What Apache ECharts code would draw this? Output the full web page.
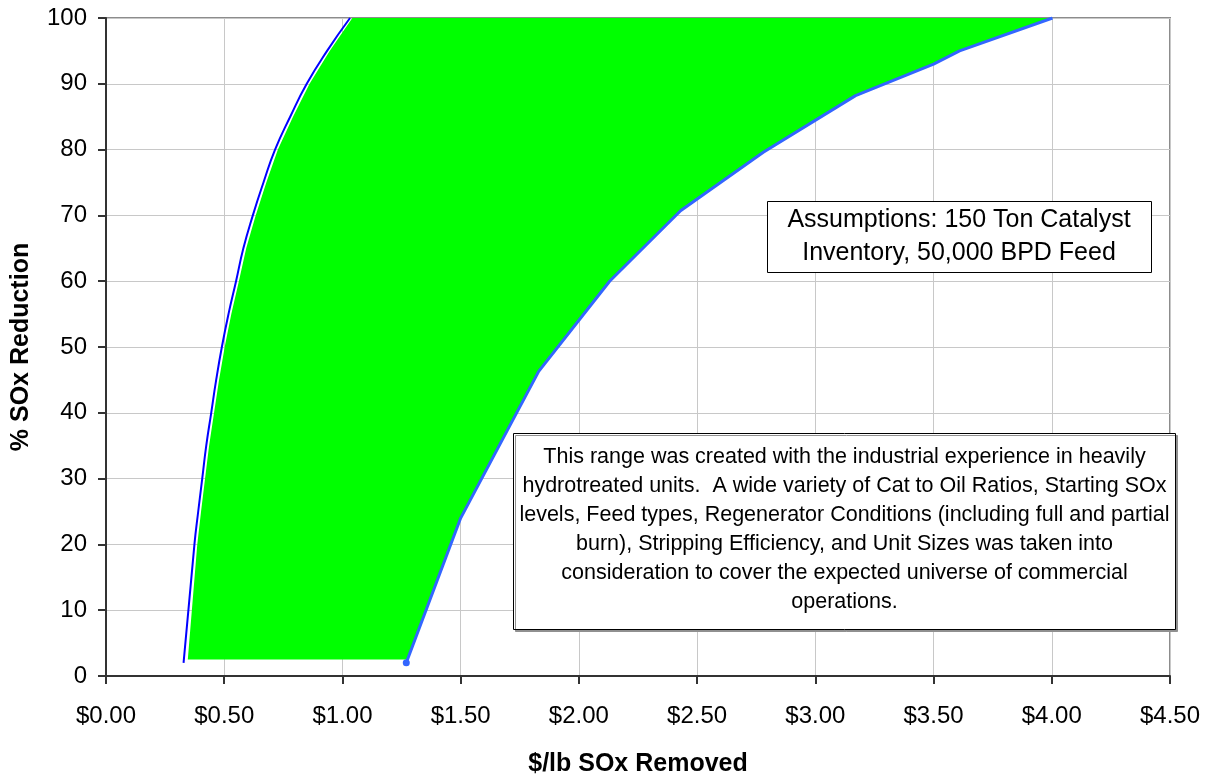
<!DOCTYPE html>
<html>
<head>
<meta charset="utf-8">
<script src="https://cdn.jsdelivr.net/npm/echarts@6/dist/echarts.min.js"></script>
<style>
html,body{margin:0;padding:0;background:#fff;}
#chart{width:1213px;height:778px;}
</style>
</head>
<body>
<div id="chart"></div>
<script>
// ---- data ----
const xTickValues = [0, 0.5, 1, 1.5, 2, 2.5, 3, 3.5, 4, 4.5];
const yTickValues = [0, 10, 20, 30, 40, 50, 60, 70, 80, 90, 100];

// low-cost boundary (dark blue line): [$/lb, % reduction]
const lowCurve = [
  [0.328, 2], [0.374, 20], [0.390, 25], [0.407, 30], [0.424, 35], [0.445, 40],
  [0.466, 45], [0.490, 50], [0.518, 55], [0.550, 60], [0.581, 65], [0.621, 70],
  [0.666, 75], [0.715, 80], [0.779, 85], [0.849, 90], [0.935, 95], [1.032, 100]
];

// high-cost boundary (lighter blue line)
const highCurve = [
  [1.270, 2], [1.500, 24], [1.830, 46.3], [2.130, 60], [2.430, 70.7],
  [2.780, 79.6], [3.170, 88.2], [3.500, 93.0], [3.610, 95.0], [4.003, 100]
];

// green range: left edge sits just inside the dark blue line
const greenLeftEdge = [
  [0.346, 2.5], [0.386, 20], [0.402, 25], [0.419, 30], [0.436, 35], [0.457, 40],
  [0.478, 45], [0.502, 50], [0.530, 55], [0.562, 60], [0.593, 65], [0.633, 70],
  [0.678, 75], [0.727, 80], [0.791, 85], [0.861, 90], [0.946, 95], [1.042, 100]
];
const areaBase = 2.5;

const assumptionText = ['Assumptions: 150 Ton Catalyst', 'Inventory, 50,000 BPD Feed'];
const noteText = [
  'This range was created with the industrial experience in heavily',
  'hydrotreated units.  A wide variety of Cat to Oil Ratios, Starting SOx',
  'levels, Feed types, Regenerator Conditions (including full and partial',
  'burn), Stripping Efficiency, and Unit Sizes was taken into',
  'consideration to cover the expected universe of commercial',
  'operations.'
];

// ---- build polygon for the green range ----
function xOnHighAt(y) {
  const a = highCurve[0], b = highCurve[1];
  return a[0] + (b[0] - a[0]) * (y - a[1]) / (b[1] - a[1]);
}
const greenPolygon = [];
greenLeftEdge.forEach(p => greenPolygon.push(p));
for (let i = highCurve.length - 1; i >= 1; i--) {
  if (highCurve[i][1] > areaBase) greenPolygon.push(highCurve[i]);
}
greenPolygon.push([xOnHighAt(areaBase), areaBase]);

const highData = highCurve.map((p, i) => i === 0
  ? { value: p, symbol: 'circle', symbolSize: 7 }
  : { value: p, symbol: 'none' });

const FONT = '"Liberation Sans", Arial, Helvetica, sans-serif';

const chart = echarts.init(document.getElementById('chart'), null, { renderer: 'canvas' });
chart.setOption({
  animation: false,
  backgroundColor: '#ffffff',
  grid: {
    left: 106, top: 18, right: 43, bottom: 102,
    containLabel: false, outerBoundsMode: 'none',
    show: true, borderColor: '#8c8c8c', borderWidth: 2, backgroundColor: 'transparent'
  },
  xAxis: {
    type: 'value', min: 0, max: 4.5, interval: 0.5,
    name: '$/lb SOx Removed', nameLocation: 'middle', nameGap: 76,
    nameTextStyle: { fontFamily: FONT, fontSize: 25, fontWeight: 'bold', color: '#000' },
    axisLine: { show: true, onZero: false, lineStyle: { color: '#333', width: 2 } },
    axisTick: { show: true, inside: false, length: 8, lineStyle: { color: '#333', width: 2 } },
    axisLabel: {
      margin: 28, fontFamily: FONT, fontSize: 24, color: '#000',
      formatter: v => '$' + v.toFixed(2)
    },
    splitLine: { show: true, lineStyle: { color: '#c8c8c8', width: 1 } }
  },
  yAxis: {
    type: 'value', min: 0, max: 100, interval: 10,
    name: '% SOx Reduction', nameLocation: 'middle', nameGap: 72, nameRotate: 90,
    nameTextStyle: { fontFamily: FONT, fontSize: 25, fontWeight: 'bold', color: '#000' },
    axisLine: { show: true, onZero: false, lineStyle: { color: '#333', width: 2 } },
    axisTick: { show: true, inside: false, length: 8, lineStyle: { color: '#333', width: 2 } },
    axisLabel: { margin: 19, fontFamily: FONT, fontSize: 24, color: '#000' },
    splitLine: { show: true, lineStyle: { color: '#c8c8c8', width: 1 } }
  },
  series: [
    {
      type: 'custom',
      z: 1,
      silent: true,
      data: [[0, 0]],
      renderItem: function (params, api) {
        const pts = greenPolygon.map(p => api.coord(p));
        return {
          type: 'polygon',
          shape: { points: pts },
          style: { fill: '#00ff00', stroke: null }
        };
      }
    },
    {
      type: 'line',
      z: 3,
      data: lowCurve,
      smooth: 0.5,
      symbol: 'none',
      lineStyle: { color: '#0000ff', width: 2 }
    },
    {
      type: 'line',
      z: 3,
      data: highData,
      smooth: false,
      itemStyle: { color: '#3366ff' },
      lineStyle: { color: '#3366ff', width: 3 }
    }
  ],
  graphic: {
    elements: [
      {
        type: 'rect',
        z: 100,
        shape: { x: 767.5, y: 201.5, width: 384, height: 71 },
        style: { fill: '#ffffff', stroke: '#000000', lineWidth: 1 }
      },
      {
        type: 'text',
        z: 101,
        x: 959, y: 237,
        style: {
          text: assumptionText.join('\n'),
          font: '25px ' + FONT,
          fill: '#000',
          align: 'center',
          verticalAlign: 'middle',
          lineHeight: 33
        }
      },
      {
        type: 'rect',
        z: 100,
        shape: { x: 513.5, y: 433.5, width: 662, height: 196 },
        style: {
          fill: '#ffffff', stroke: '#000000', lineWidth: 1,
          shadowColor: '#909090', shadowOffsetX: 2, shadowOffsetY: 2, shadowBlur: 0
        }
      },
      {
        type: 'text',
        z: 101,
        x: 844.5, y: 530,
        style: {
          text: noteText.join('\n'),
          font: '21.5px ' + FONT,
          fill: '#000',
          align: 'center',
          verticalAlign: 'middle',
          lineHeight: 29
        }
      }
    ]
  }
});
</script>
</body>
</html>
